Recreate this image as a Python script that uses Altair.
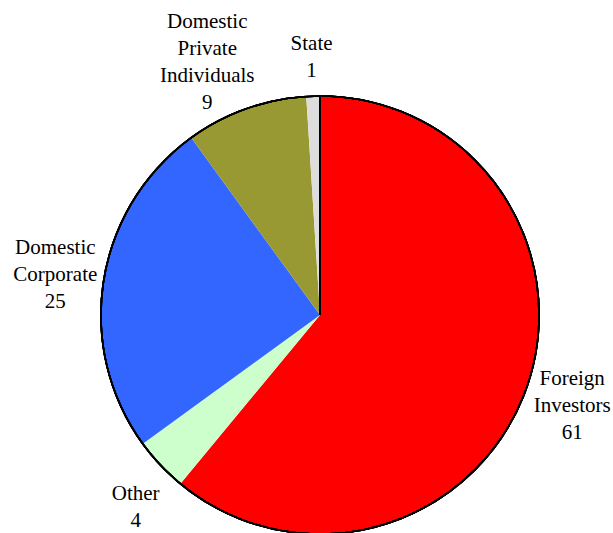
import altair as alt
import pandas as pd

categories = ["Foreign Investors", "Other", "Domestic Corporate", "Domestic Private Individuals", "State"]
label_text = ["Foreign\nInvestors", "Other", "Domestic\nCorporate", "Domestic\nPrivate\nIndividuals", "State"]
values = [61, 4, 25, 9, 1]
colors = ["#ff0000", "#ccffcc", "#3366ff", "#999933", "#dddddd"]

df = pd.DataFrame({
    "category": categories,
    "value": values,
    "label": [f"{t}\n{v}" for t, v in zip(label_text, values)],
    "order": list(range(len(categories))),
})

CX, CY, R = 320, 315, 219
LH = 27
total = sum(values)
tscale = alt.Scale(domain=[0, total])

base = alt.Chart(df).transform_stack(
    stack="value", as_=["v0", "v1"], groupby=[],
    sort=[alt.SortField("order", order="ascending")]
).transform_calculate(mid="(datum.v0 + datum.v1) / 2")

slices = base.mark_arc(radius=R).encode(
    theta=alt.Theta("v0:Q", scale=tscale),
    theta2="v1:Q",
    x=alt.value(CX), y=alt.value(CY),
    color=alt.Color("category:N",
                    scale=alt.Scale(domain=categories, range=colors),
                    legend=None)
)

outline = alt.Chart(df).mark_arc(
    radius=R, theta=0, theta2=6.283185307, filled=False,
    stroke="black", strokeWidth=1.6
).encode(x=alt.value(CX), y=alt.value(CY))

# small label nudges (pixels) to mimic the reference's placement
nudge = {
    "Foreign Investors": (0, 0),
    "Other": (11, 9),
    "Domestic Corporate": (0, 2),
    "Domestic Private Individuals": (-22, 0),
    "State": (0, 10),
}

label_layers = []
for cat, lab in zip(categories, df["label"]):
    n = lab.count("\n") + 1
    dx, dy = nudge[cat]
    label_layers.append(
        base.transform_filter(alt.datum.category == cat).mark_text(
            radius=268, font="Liberation Serif", fontSize=21, lineBreak="\n",
            lineHeight=LH, align="center", baseline="middle", color="black",
            dx=dx, dy=-(n - 1) * LH / 2 + dy
        ).encode(
            theta=alt.Theta("mid:Q", scale=tscale),
            x=alt.value(CX), y=alt.value(CY),
            text="label:N",
        )
    )

chart = alt.layer(slices, outline, *label_layers).properties(
    width=613, height=533, padding=0, autosize=alt.AutoSizeParams(type="none")
).configure_view(stroke=None)

chart.save("out.html", embed_options={"renderer": "svg", "actions": False})
